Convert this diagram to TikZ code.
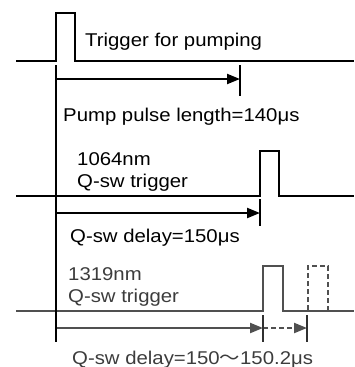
\documentclass[tikz,border=0pt]{standalone}
\usepackage{fontspec}
\setmainfont{Liberation Sans}
\newfontfamily\cjkfont{Noto Sans CJK SC}
\usetikzlibrary{arrows.meta}
\definecolor{sgray}{HTML}{505050}
\definecolor{tgray}{HTML}{3C3C3C}
\definecolor{kgray}{HTML}{303030}
\newcommand{\stx}[1]{\scalebox{1.1}[1]{#1}}
\begin{document}
\begin{tikzpicture}[x=1pt,y=-1pt,
  sig/.style={line width=2.8pt,line join=miter},
  vline/.style={line width=2.8pt},
  tick/.style={line width=2.4pt},
  arr/.style={line width=2.2pt,-{Triangle[length=13pt,width=10pt]}},
  lbl/.style={anchor=base west,inner sep=0pt,font=\fontsize{18.5}{22}\selectfont},
  dpulse/.style={line width=2.2pt,dash pattern=on 5pt off 3pt}]
\useasboundingbox (0,0) rectangle (354,367);
% row 1
\coordinate (r1s) at (16,61);
\coordinate (r1a) at (56,61);
\coordinate (r1b) at (56,13);
\coordinate (r1c) at (75,13);
\coordinate (r1d) at (75,61);
\coordinate (r1e) at (354,61);
\draw[sig] (r1s) -- (r1a) -- (r1b) -- (r1c) -- (r1d) -- (r1e);
% vertical reference line
\coordinate (v0) at (56,65);
\coordinate (v1) at (56,342);
% arrow 1
\coordinate (a1s) at (56,79);
\coordinate (a1e) at (240,79);
\coordinate (t1a) at (240,65);
\coordinate (t1b) at (240,96);
\draw[arr] (a1s) -- (a1e);
\draw[tick] (t1a) -- (t1b);
\node[lbl] (trig) at (85,46) {\stx{Trigger for pumping}};
\node[lbl] (pump) at (63,121) {\stx{Pump pulse length=140μs}};
% row 2
\coordinate (r2s) at (16,196);
\coordinate (r2a) at (260,196);
\coordinate (r2b) at (260,151);
\coordinate (r2c) at (279,151);
\coordinate (r2d) at (279,196);
\coordinate (r2e) at (354,196);
\draw[sig] (r2s) -- (r2a) -- (r2b) -- (r2c) -- (r2d) -- (r2e);
\coordinate (a2s) at (56,213);
\coordinate (a2e) at (260,213);
\coordinate (t2a) at (260,199);
\coordinate (t2b) at (260,226);
\draw[arr] (a2s) -- (a2e);
\draw[tick] (t2a) -- (t2b);
\node[lbl] (l1064) at (77,165) {\stx{1064nm}};
\node[lbl] (l1064b) at (77,187) {\stx{Q-sw trigger}};
\node[lbl] (d1064) at (70,242) {\stx{Q-sw delay=150μs}};
% row 3
\coordinate (r3s) at (16,311);
\coordinate (r3a) at (263,311);
\coordinate (r3b) at (263,266);
\coordinate (r3c) at (283,266);
\coordinate (r3d) at (283,311);
\coordinate (r3e) at (354,311);
\draw[sig,sgray] (r3s) -- (r3a) -- (r3b) -- (r3c) -- (r3d) -- (r3e);
\coordinate (q1) at (308,310);
\coordinate (q2) at (308,266);
\coordinate (q3) at (328,266);
\coordinate (q4) at (328,310);
\draw[dpulse,sgray] (q1) -- (q2) -- (q3) -- (q4);
\coordinate (a3s) at (56,328);
\coordinate (a3m) at (263,328);
\coordinate (a3e) at (307,328);
\draw[arr,sgray] (a3s) -- (a3m);
\draw[arr,sgray,dash pattern=on 5pt off 3pt] (a3m) -- (a3e);
\coordinate (t3a) at (263,315);
\coordinate (t3b) at (263,342);
\coordinate (t4a) at (307,315);
\coordinate (t4b) at (307,342);
\draw[tick,kgray] (t3a) -- (t3b);
\draw[tick,kgray] (t4a) -- (t4b);
\draw[vline] (v0) -- (v1);
\node[lbl,text=tgray] (l1319) at (68,280) {\stx{1319nm}};
\node[lbl,text=tgray] (l1319b) at (68,302) {\stx{Q-sw trigger}};
\node[lbl,text=tgray] (d1319) at (72,364) {\stx{Q-sw delay=150{\cjkfont ～}150.2μs}};
\end{tikzpicture}
\end{document}
